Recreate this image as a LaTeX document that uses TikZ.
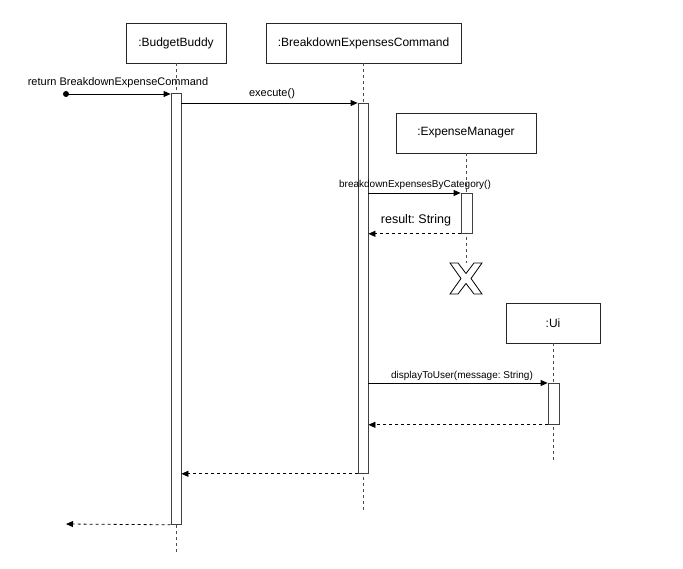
\documentclass[tikz,border=0pt]{standalone}
\usepackage{fontspec}
\setmainfont{Liberation Sans}
\usetikzlibrary{arrows.meta}
\frenchspacing
\begin{document}
\begin{tikzpicture}[x=1pt,y=-1pt,
  obj/.style={draw=black!85, line width=0.8pt, fill=white, inner sep=0pt, minimum height=40pt, font=\fontsize{12}{14}\selectfont},
  actbar/.style={draw=black!75, fill=white, line width=0.8pt, minimum width=10pt, inner sep=0pt, anchor=north},
  life/.style={draw=black!70, line width=0.8pt, dash pattern=on 3pt off 3pt},
  msg/.style={-{Triangle[length=7pt,width=6pt]}, line width=0.8pt},
  ret/.style={msg, dash pattern=on 3pt off 3pt},
  lbl/.style={inner sep=0pt, font=\fontsize{10}{12}\selectfont},
  lblbig/.style={inner sep=0pt, font=\fontsize{11}{13}\selectfont}
]
\useasboundingbox (0,0) rectangle (683,569);

% objects
\node[obj, minimum width=100pt] (bb) at (176,43) {:BudgetBuddy};
\node[obj, minimum width=195pt] (bec) at (363.5,43) {:BreakdownExpensesCommand};
\node[obj, minimum width=140pt] (em) at (466,133) {:ExpenseManager};
\node[obj, minimum width=94pt] (ui) at (553,323) {:Ui};

% lifeline ends
\coordinate (bbEnd) at (176,553);
\coordinate (becEnd) at (363,512);
\coordinate (emEnd) at (466,263);
\coordinate (uiEnd) at (553,462);

\draw[life] (bb.south) -- (bbEnd);
\draw[life] (bec.south -| becEnd) -- (becEnd);
\draw[life] (em.south) -- (emEnd);
\draw[life] (ui.south) -- (uiEnd);

% destruction mark
\coordinate (xm) at (466,278.5);
\draw[line width=0.8pt, fill=white, shift={(xm)}]
  (-16,-15.5) -- (-8,-15.5) -- (0,-5) -- (8,-15.5) -- (16,-15.5) -- (5,0)
  -- (16,15.5) -- (8,15.5) -- (0,5) -- (-8,15.5) -- (-16,15.5) -- (-5,0) -- cycle;

% activation bars
\node[actbar, minimum height=431pt] (bbBar) at (176,93) {};
\node[actbar, minimum height=370pt] (becBar) at (363,103) {};
\node[actbar, minimum width=11pt, minimum height=40pt] (emBar) at (466.5,193) {};
\node[actbar, minimum width=11pt, minimum height=41pt] (uiBar) at (553.5,383) {};

% found message
\coordinate (src) at (66,94);
\fill (src) circle (3pt);
\draw[msg] (src) -- (bbBar.west |- src);
\node[lblbig] (l0) at (118,83) {return BreakdownExpenseCommand};

% execute
\draw[msg] (bbBar.east |- becBar.north) -- (becBar.north west);
\node[lblbig] (l1) at (272,94) {execute()};

% breakdownExpensesByCategory
\draw[msg] (becBar.east |- emBar.north) -- (emBar.north west);
\node[lbl] (l2) at (415,185) {breakdownExpensesByCategory()};

% result
\draw[ret] (emBar.south west) -- (becBar.east |- emBar.south);
\node[inner sep=0pt, font=\fontsize{12.5}{15}\selectfont] (l3) at (416,220) {result: String};

% displayToUser
\draw[msg] (becBar.east |- uiBar.north) -- (uiBar.north west);
\node[lbl] (l4) at (462,376) {displayToUser(message: String)};

% return from Ui
\draw[ret] (uiBar.south west) -- (becBar.east |- uiBar.south);

% return from BEC
\draw[ret] (becBar.south west) -- (bbBar.east |- becBar.south);

% final return
\coordinate (sink) at (66,524);
\draw[ret] (bbBar.south west) -- (sink);
\end{tikzpicture}
\end{document}
